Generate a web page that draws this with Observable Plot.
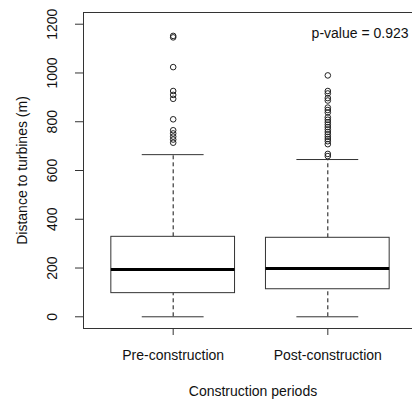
<!DOCTYPE html>
<html>
<head>
<meta charset="utf-8">
<script src="https://cdn.jsdelivr.net/npm/d3@7"></script>
<script src="https://cdn.jsdelivr.net/npm/@observablehq/plot@0.6"></script>
<style>
  html, body { margin: 0; padding: 0; background: #fff; }
  #chart svg { display: block; overflow: hidden; }
</style>
</head>
<body>
<div id="chart"></div>
<script>
// Construction periods (box positions 1 and 2)
const periods = ["Pre-construction", "Post-construction"];
const positions = [1, 2];

// Five-number summaries: lower whisker, Q1, median, Q3, upper whisker (m)
const whiskerLow = [0, 0];
const q1 = [97, 113];
const median = [194, 198];
const q3 = [328, 324];
const whiskerHigh = [665, 645];

// Outlying distances (m)
const outliersPre = [1152, 1146, 1024, 926, 910, 894, 810, 765, 752, 739, 727, 714];
const outliersPost = [990, 926, 916, 897, 887, 858, 848, 838, 818, 808, 798, 788, 778,
                      768, 758, 748, 738, 729, 720, 708, 668, 659];

const yTicks = [0, 200, 400, 600, 800, 1000, 1200];
const pValueLabel = "p-value = 0.923";

const boxes = positions.map((p, i) => ({
  pos: p, period: periods[i],
  lo: whiskerLow[i], q1: q1[i], med: median[i], q3: q3[i], hi: whiskerHigh[i]
}));
const outliers = [
  ...outliersPre.map(v => ({pos: 1, value: v})),
  ...outliersPost.map(v => ({pos: 2, value: v}))
];

const boxHalf = 0.4;
const stapleHalf = 0.2;
const ink = "#111";
const fontFamily = "'Liberation Sans', Arial, sans-serif";

const chart = Plot.plot({
  width: 412,
  height: 401,
  marginLeft: 83,
  marginRight: -5,
  marginTop: 12,
  marginBottom: 73,
  style: {fontFamily, fontSize: "14px", color: ink, background: "#fff"},
  x: {type: "linear", domain: [0.42, 2.58], axis: null},
  y: {domain: [-48, 1248], axis: null},
  marks: [
    Plot.frame({stroke: "#333"}),
    // y axis ticks and rotated labels
    Plot.axisY({ticks: yTicks, tickSize: 8, tickFormat: () => "", label: null, stroke: "#333"}),
    Plot.text(yTicks, {y: d => d, text: d => String(d), frameAnchor: "left", dx: -31,
      rotate: -90, textAnchor: "middle", lineAnchor: "middle", fill: ink, fontSize: 14}),
    // x axis ticks and category labels
    Plot.axisX({ticks: positions, tickSize: 7, tickPadding: 15,
      tickFormat: d => periods[d - 1], label: null, fontSize: 14, stroke: "#333", fill: ink}),
    // whiskers
    Plot.ruleX(boxes, {x: "pos", y1: "q3", y2: "hi", stroke: ink, strokeDasharray: "4,3"}),
    Plot.ruleX(boxes, {x: "pos", y1: "lo", y2: "q1", stroke: ink, strokeDasharray: "4,3"}),
    Plot.ruleY(boxes, {y: "hi", x1: d => d.pos - stapleHalf, x2: d => d.pos + stapleHalf, stroke: "#333"}),
    Plot.ruleY(boxes, {y: "lo", x1: d => d.pos - stapleHalf, x2: d => d.pos + stapleHalf, stroke: "#333"}),
    // boxes and medians
    Plot.rect(boxes, {x1: d => d.pos - boxHalf, x2: d => d.pos + boxHalf, y1: "q1", y2: "q3",
      fill: "#fff", stroke: "#333"}),
    Plot.ruleY(boxes, {y: "med", x1: d => d.pos - boxHalf, x2: d => d.pos + boxHalf,
      stroke: "#000", strokeWidth: 3}),
    // outliers
    Plot.dot(outliers, {x: "pos", y: "value", r: 2.8, stroke: "#222", fill: "none", strokeWidth: 1}),
    // titles and annotation
    Plot.text([pValueLabel], {frameAnchor: "top-right", dx: -9, dy: 21, textAnchor: "end",
      lineAnchor: "middle", fill: ink, fontSize: 14}),
    Plot.text(["Distance to turbines (m)"], {frameAnchor: "left", dx: -61, rotate: -90,
      textAnchor: "middle", lineAnchor: "middle", fill: ink, fontSize: 14}),
    Plot.text(["Construction periods"], {frameAnchor: "bottom", dx: 2.5, dy: 63,
      textAnchor: "middle", lineAnchor: "middle", fill: ink, fontSize: 14})
  ]
});

document.getElementById("chart").appendChild(chart);
</script>
</body>
</html>
